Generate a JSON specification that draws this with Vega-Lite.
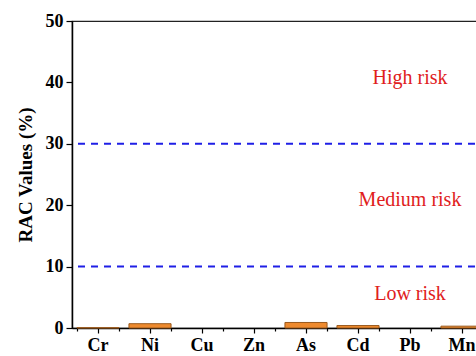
{
  "$schema": "https://vega.github.io/schema/vega-lite/v6.json",
  "autosize": "none",
  "padding": {"left": 72, "top": 21, "right": 0, "bottom": 28},
  "width": 416,
  "height": 307,
  "background": "white",
  "config": {
    "view": {"stroke": "#222", "strokeWidth": 1.2},
    "font": "Liberation Serif"
  },
  "resolve": {"scale": {"x": "shared"}, "axis": {"x": "independent"}},
  "layer": [
    {
      "data": {"values": [
        {"Metal": "Cr", "RAC": 0.05},
        {"Metal": "Ni", "RAC": 0.7},
        {"Metal": "Cu", "RAC": 0},
        {"Metal": "Zn", "RAC": 0},
        {"Metal": "As", "RAC": 0.9},
        {"Metal": "Cd", "RAC": 0.4},
        {"Metal": "Pb", "RAC": 0},
        {"Metal": "Mn", "RAC": 0.3}
      ]},
      "mark": {"type": "bar", "fill": "#EE8A2E", "stroke": "#9A5A1E", "strokeWidth": 1},
      "encoding": {
        "x": {
          "field": "Metal", "type": "nominal", "sort": null,
          "scale": {"paddingInner": 0.19, "paddingOuter": 0.095},
          "axis": {
            "orient": "bottom", "title": null, "labelAngle": 0,
            "labelFont": "Liberation Serif", "labelFontWeight": "bold", "labelFontSize": 18,
            "labelColor": "#000", "tickColor": "#000", "tickSize": 5, "tickWidth": 1.2,
            "domainColor": "#000", "domainWidth": 1.5, "labelPadding": 3, "grid": false
          }
        },
        "y": {
          "field": "RAC", "type": "quantitative",
          "scale": {"domain": [0, 50], "nice": false},
          "axis": {
            "title": "RAC Values (%)", "titleFont": "Liberation Serif", "titleFontWeight": "bold",
            "titleFontSize": 19, "titleColor": "#000", "titlePadding": 10,
            "values": [0, 5, 10, 15, 20, 25, 30, 35, 40, 45, 50],
            "labelExpr": "datum.value % 10 === 0 ? datum.label : ''",
            "labelFont": "Liberation Serif", "labelFontWeight": "bold", "labelFontSize": 18,
            "labelColor": "#000", "labelPadding": 3,
            "tickSize": {"condition": {"test": "datum.value % 10 === 0", "value": 6}, "value": 3},
            "tickColor": "#000", "tickWidth": 1.2,
            "domainColor": "#000", "domainWidth": 1.5, "grid": false
          }
        },
        "strokeOpacity": {"condition": {"test": "datum.RAC > 0", "value": 1}, "value": 0}
      }
    },
    {
      "data": {"values": [{"level": 10}, {"level": 30}]},
      "mark": {"type": "rule", "color": "#1f1fe6", "strokeWidth": 2, "strokeDash": [7, 6]},
      "encoding": {
        "y": {"field": "level", "type": "quantitative"}
      }
    },
    {
      "data": {"values": [
        {"label": "High risk", "Metal": "Pb", "pos": 40.7},
        {"label": "Medium risk", "Metal": "Pb", "pos": 20.8},
        {"label": "Low risk", "Metal": "Pb", "pos": 5.6}
      ]},
      "mark": {"type": "text", "color": "#e0201c", "font": "Liberation Serif", "fontSize": 20, "baseline": "middle", "align": "center"},
      "encoding": {
        "x": {
          "field": "Metal", "type": "nominal", "sort": null,
          "axis": {
            "orient": "bottom", "title": null, "labels": false, "domain": false,
            "tickBand": "extent", "tickSize": 3, "tickColor": "#000", "tickWidth": 1.2, "grid": false
          }
        },
        "y": {"field": "pos", "type": "quantitative"},
        "text": {"field": "label"}
      }
    }
  ]
}
